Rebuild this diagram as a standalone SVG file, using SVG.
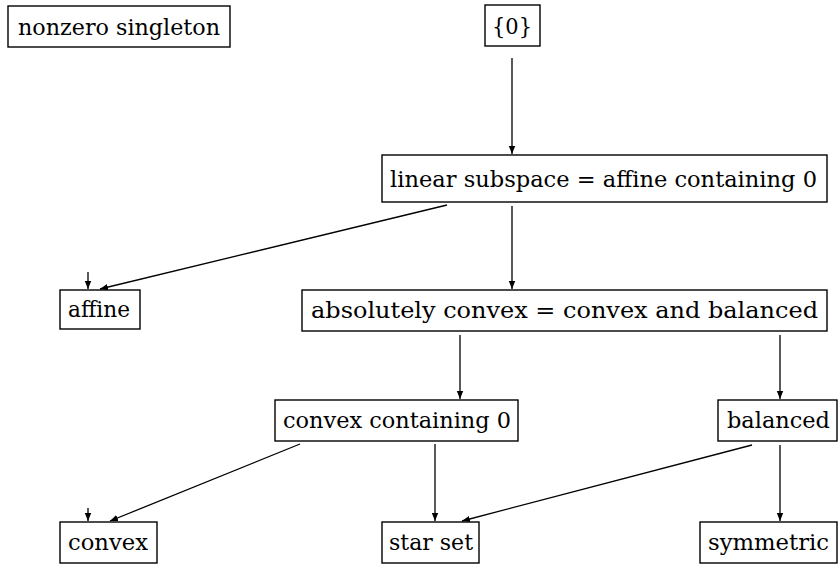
<svg xmlns="http://www.w3.org/2000/svg" width="840" height="573" viewBox="0 0 840 573">
<defs>
<marker id="ah" viewBox="0 0 10 10" refX="10" refY="5" markerWidth="8" markerHeight="8" markerUnits="userSpaceOnUse" orient="auto">
<path d="M0,1 L10,5 L0,9 z" fill="#000"/>
</marker>
</defs>
<style>
.box{fill:#fff;stroke:#000;stroke-width:1.4}
.t{font-family:"DejaVu Serif","Liberation Serif",serif;font-size:23px;fill:#000}
.e{stroke:#000;stroke-width:1.3;fill:none;marker-end:url(#ah)}
</style>
<rect width="840" height="573" fill="#fff"/>
<g id="connectors">
<line class="e" x1="512" y1="58" x2="512" y2="154"/>
<line class="e" x1="447" y1="205" x2="100" y2="289"/>
<line class="e" x1="88" y1="272" x2="88" y2="289"/>
<line class="e" x1="512" y1="206" x2="512" y2="289"/>
<line class="e" x1="460" y1="335" x2="460" y2="399"/>
<line class="e" x1="780" y1="335" x2="780" y2="399"/>
<line class="e" x1="300" y1="444" x2="110" y2="521"/>
<line class="e" x1="88" y1="508" x2="88" y2="521"/>
<line class="e" x1="435" y1="444" x2="435" y2="521"/>
<line class="e" x1="752" y1="445" x2="462" y2="521"/>
<line class="e" x1="780" y1="445" x2="780" y2="521"/>
</g>
<g id="n-nonzero"><rect class="box" x="8" y="6" width="222" height="41"/><text class="t" x="18" y="35" textLength="202" lengthAdjust="spacingAndGlyphs">nonzero singleton</text></g>
<g id="n-zero"><rect class="box" x="485" y="5" width="55" height="41"/><text class="t" x="492" y="34" textLength="40" lengthAdjust="spacingAndGlyphs">{0}</text></g>
<g id="n-linear"><rect class="box" x="382" y="155" width="445" height="47"/><text class="t" x="390" y="187" textLength="427" lengthAdjust="spacingAndGlyphs">linear subspace = affine containing 0</text></g>
<g id="n-affine"><rect class="box" x="60" y="290" width="80" height="39"/><text class="t" x="68" y="317" textLength="62" lengthAdjust="spacingAndGlyphs">affine</text></g>
<g id="n-absconvex"><rect class="box" x="302" y="290" width="525" height="41"/><text class="t" x="311" y="318" textLength="507" lengthAdjust="spacingAndGlyphs">absolutely convex = convex and balanced</text></g>
<g id="n-convex0"><rect class="box" x="275" y="400" width="243" height="41"/><text class="t" x="283" y="428" textLength="228" lengthAdjust="spacingAndGlyphs">convex containing 0</text></g>
<g id="n-balanced"><rect class="box" x="718" y="400" width="119" height="41"/><text class="t" x="727" y="428" textLength="103" lengthAdjust="spacingAndGlyphs">balanced</text></g>
<g id="n-convex"><rect class="box" x="60" y="522" width="97" height="41"/><text class="t" x="68" y="550" textLength="80" lengthAdjust="spacingAndGlyphs">convex</text></g>
<g id="n-star"><rect class="box" x="382" y="522" width="97" height="41"/><text class="t" x="389" y="550" textLength="84" lengthAdjust="spacingAndGlyphs">star set</text></g>
<g id="n-symmetric"><rect class="box" x="700" y="522" width="137" height="41"/><text class="t" x="708" y="550" textLength="121" lengthAdjust="spacingAndGlyphs">symmetric</text></g>
</svg>
